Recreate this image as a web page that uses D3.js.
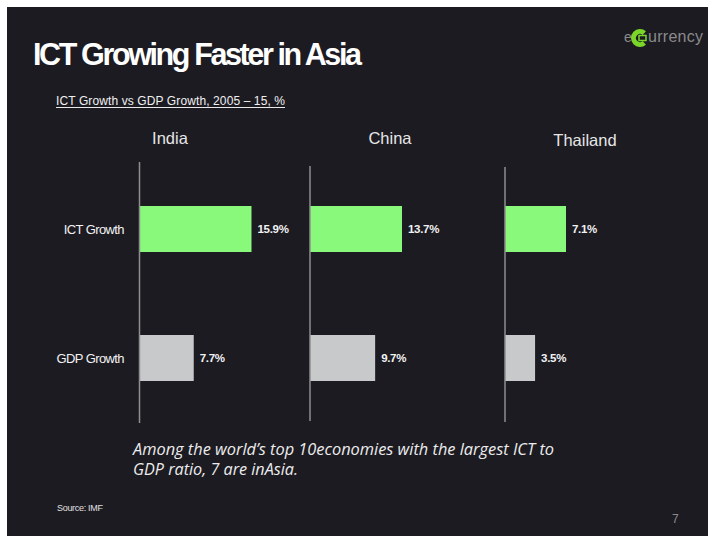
<!DOCTYPE html>
<html>
<head>
<meta charset="utf-8">
<script src="https://cdn.jsdelivr.net/npm/d3@7"></script>
<style>
  html, body { margin: 0; padding: 0; background: #ffffff; }
  svg { display: block; }
</style>
</head>
<body>
<script>
// Growth figures, 2005-15, % per year
const countries = ["India", "China", "Thailand"];
const metrics = ["ICT Growth", "GDP Growth"];
const ictGrowth = [15.9, 13.7, 7.1];
const gdpGrowth = [7.7, 9.7, 3.5];
const valueLabels = ["15.9%", "13.7%", "7.1%", "7.7%", "9.7%", "3.5%"];

const W = 708, H = 536;
const BG = "#1c1b22";
const GREEN = "#88f97b";
const GREY = "#c8c9cb";
const SANS = "Liberation Sans, Arial, sans-serif";

const svg = d3.select("body").append("svg")
  .attr("width", W).attr("height", H);

// slide area (white margin on top/left)
svg.append("rect").attr("x", 7).attr("y", 7).attr("width", W - 7).attr("height", H - 7)
  .attr("fill", BG);

// title
svg.append("text")
  .attr("x", 33).attr("y", 65)
  .attr("font-family", SANS)
  .attr("font-weight", "bold").attr("font-size", 30.5)
  .attr("fill", "#ffffff")
  .attr("textLength", 329).attr("lengthAdjust", "spacing")
  .text("ICT Growing Faster in Asia");

// subtitle (underlined)
svg.append("text")
  .attr("x", 56).attr("y", 105)
  .attr("font-family", SANS)
  .attr("font-size", 12).attr("fill", "#f0f0f0")
  .attr("textLength", 229).attr("lengthAdjust", "spacing")
  .text("ICT Growth vs GDP Growth, 2005 \u2013 15, %");
svg.append("line").attr("x1", 56).attr("x2", 285).attr("y1", 107.5).attr("y2", 107.5)
  .attr("stroke", "#e8e8e8").attr("stroke-width", 1);

// logo
const logo = svg.append("g");
logo.append("text").attr("x", 624).attr("y", 42)
  .attr("font-family", SANS).attr("font-size", 14)
  .attr("fill", "#8a8a8a").text("e");
logo.append("path")
  .attr("transform", "translate(640,38)")
  .attr("d", d3.arc()({ innerRadius: 4, outerRadius: 9,
    startAngle: Math.PI / 2 + 0.85, endAngle: Math.PI / 2 + 2 * Math.PI - 0.85 }))
  .attr("fill", "#7bd62a");
logo.append("rect").attr("x", 639).attr("y", 35.5).attr("width", 7).attr("height", 5)
  .attr("fill", BG).attr("stroke", "#7bd62a").attr("stroke-width", 1.5);
logo.append("text").attr("x", 648).attr("y", 42)
  .attr("font-family", SANS).attr("font-size", 16)
  .attr("fill", "#8a8a8a").attr("textLength", 55).attr("lengthAdjust", "spacing")
  .text("urrency");

// panel layout
const panelAxisX = [139.5, 310, 505];
const panelSpan = [112, 92, 61];
const panelAxisTop = [162, 166, 167];
const panelAxisBottom = [423, 421, 422];
const headerX = [170, 390, 585];
const headerY = [144, 144, 146];

const y = d3.scalePoint().domain(metrics).range([229, 358]);
const barH = 46;

// row labels
svg.append("g").selectAll("text").data(metrics).join("text")
  .attr("x", 124).attr("y", d => y(d)).attr("dy", "0.35em")
  .attr("text-anchor", "end")
  .attr("font-family", SANS)
  .attr("font-size", 13).attr("fill", "#f2f2f2")
  .attr("letter-spacing", -0.6)
  .text(d => d);

countries.forEach((c, i) => {
  const vals = [ictGrowth[i], gdpGrowth[i]];
  const x = d3.scaleLinear()
    .domain([0, d3.max(vals)])
    .range([panelAxisX[i], panelAxisX[i] + panelSpan[i]]);
  const g = svg.append("g");

  g.append("text")
    .attr("x", headerX[i]).attr("y", headerY[i])
    .attr("text-anchor", "middle")
    .attr("font-family", SANS)
    .attr("font-size", 16.5).attr("fill", "#e6e6e6")
    .text(c);

  g.selectAll("rect").data(metrics).join("rect")
    .attr("x", x(0))
    .attr("y", d => y(d) - barH / 2)
    .attr("width", (d, j) => x(vals[j]) - x(0))
    .attr("height", barH)
    .attr("fill", (d, j) => j === 0 ? GREEN : GREY);

  g.selectAll("text.val").data(metrics).join("text")
    .attr("class", "val")
    .attr("x", (d, j) => x(vals[j]) + 6)
    .attr("y", d => y(d)).attr("dy", "0.35em")
    .attr("font-family", SANS)
    .attr("font-weight", "bold").attr("font-size", 11.5)
    .attr("letter-spacing", -0.3)
    .attr("fill", "#f2f2f2")
    .text((d, j) => valueLabels[j * 3 + i]);

  g.append("line")
    .attr("x1", x(0)).attr("x2", x(0))
    .attr("y1", panelAxisTop[i]).attr("y2", panelAxisBottom[i])
    .attr("stroke", "#8e8e8e").attr("stroke-width", 1.5);
});

// takeaway note
const note = svg.append("g")
  .attr("font-family", "Open Sans, Noto Sans, sans-serif")
  .attr("font-style", "italic").attr("font-size", 15.5).attr("fill", "#ececec");
note.append("text").attr("x", 133).attr("y", 455)
  .attr("textLength", 421).attr("lengthAdjust", "spacingAndGlyphs")
  .text("Among the world\u2019s top 10economies with the largest ICT to");
note.append("text").attr("x", 133).attr("y", 475)
  .attr("textLength", 165).attr("lengthAdjust", "spacingAndGlyphs")
  .text("GDP ratio, 7 are inAsia.");

// footer
svg.append("text").attr("x", 57).attr("y", 511)
  .attr("font-family", SANS).attr("font-size", 9)
  .attr("fill", "#e0e0e0").attr("textLength", 46).attr("lengthAdjust", "spacing")
  .text("Source: IMF");
svg.append("text").attr("x", 672).attr("y", 523)
  .attr("font-family", SANS).attr("font-size", 12)
  .attr("fill", "#8a8a8a").text("7");
</script>
</body>
</html>
